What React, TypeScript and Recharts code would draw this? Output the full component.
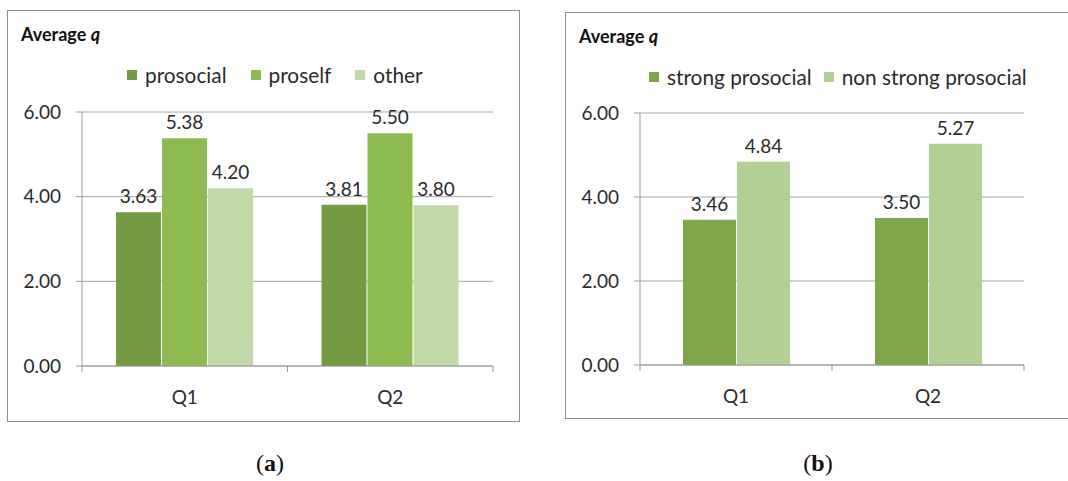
import { Bar, BarChart, CartesianGrid, LabelList, XAxis, YAxis } from 'recharts';

const categories = ['Q1', 'Q2'];
const prosocial = [3.63, 3.81];
const proself = [5.38, 5.5];
const other = [4.2, 3.8];
const strongProsocial = [3.46, 3.5];
const nonStrongProsocial = [4.84, 5.27];
const yTicks = [0, 2, 4, 6];

const FONT = 'Lato, "Open Sans", sans-serif';
const TEXT = '#2b2b2b';

interface Series {
  key: string;
  name: string;
  values: number[];
  color: string;
}

const seriesA: Series[] = [
  { key: 'prosocial', name: 'prosocial', values: prosocial, color: '#739C42' },
  { key: 'proself', name: 'proself', values: proself, color: '#8DBB50' },
  { key: 'other', name: 'other', values: other, color: '#C1D8A8' },
];

const seriesB: Series[] = [
  { key: 'strong', name: 'strong prosocial', values: strongProsocial, color: '#7EA749' },
  { key: 'nonStrong', name: 'non strong prosocial', values: nonStrongProsocial, color: '#B2CF95' },
];

function CategoryTick(props: any) {
  const { x, y, payload, index, visibleTicksCount } = props;
  const half = payload?.offset ?? 100;
  const axisY = y - 8;
  return (
    <g>
      <line x1={x - half} x2={x - half} y1={axisY} y2={axisY + 6} stroke="#999" />
      {index === visibleTicksCount - 1 && (
        <line x1={x + half} x2={x + half} y1={axisY} y2={axisY + 6} stroke="#999" />
      )}
      <text x={x} y={y + 30} textAnchor="middle" fontSize={19} fontFamily={FONT} fill={TEXT}>
        {payload.value}
      </text>
    </g>
  );
}

interface PanelProps {
  series: Series[];
  left: number;
  top: number;
  width: number;
  height: number;
  margin: { top: number; right: number; bottom: number; left: number };
  barSize: number;
  legendLeft: number;
  legendGap: number;
  caption: string;
  captionX: number;
}

function Panel({ series, left, top, width, height, margin, barSize, legendLeft, legendGap, caption, captionX }: PanelProps) {
  const rows = categories.map((category, i) => {
    const row: Record<string, string | number> = { category };
    series.forEach((s) => (row[s.key] = s.values[i]));
    return row;
  });

  return (
    <>
      <div
        style={{
          position: 'absolute',
          left,
          top,
          width: width - 2,
          height: height - 2,
          border: '1px solid #8c8c8c',
          background: '#fff',
        }}
      >
        <div style={{ position: 'absolute', left: 13, top: 12, fontFamily: FONT, fontSize: 18, fontWeight: 700, color: '#111' }}>
          Average <i>q</i>
        </div>
        <div style={{ position: 'absolute', left: legendLeft, top: 51, display: 'flex', alignItems: 'center', fontFamily: FONT, fontSize: 20.8, color: TEXT }}>
          {series.map((s) => (
            <div key={s.key} style={{ display: 'flex', alignItems: 'center', marginRight: legendGap }}>
              <span style={{ width: 10, height: 10, background: s.color, marginRight: 8 }} />
              <span>{s.name}</span>
            </div>
          ))}
        </div>
        <BarChart width={width - 2} height={height - 2} data={rows} margin={margin} barSize={barSize} barGap={1}>
          <CartesianGrid vertical={false} stroke="#a6a6a6" />
          <XAxis dataKey="category" height={30} axisLine={{ stroke: '#999' }} tickLine={false} tick={<CategoryTick />} interval={0} />
          <YAxis
            width={60}
            domain={[0, 6]}
            ticks={yTicks}
            axisLine={{ stroke: '#999' }}
            tickLine={{ stroke: '#999' }}
            tickSize={6}
            tickMargin={15}
            tickFormatter={(v: number) => v.toFixed(2)}
            tick={{ fontSize: 19, fontFamily: FONT, fill: TEXT }}
          />
          {series.map((s) => (
            <Bar key={s.key} dataKey={s.key} name={s.name} fill={s.color} isAnimationActive={false}>
              <LabelList
                dataKey={s.key}
                position="top"
                offset={9}
                formatter={(v: any) => Number(v).toFixed(2)}
                style={{ fontSize: 19, fontFamily: FONT, fill: TEXT }}
              />
            </Bar>
          ))}
        </BarChart>
      </div>
      <div
        style={{
          position: 'absolute',
          left: captionX - 40,
          width: 80,
          top: 450,
          textAlign: 'center',
          fontFamily: '"Liberation Serif", "DejaVu Serif", serif',
          fontSize: 24,
          color: '#111',
        }}
      >
        (<b>{caption}</b>)
      </div>
    </>
  );
}

export default function App() {
  return (
    <div style={{ position: 'absolute', left: 0, top: 0, width: 1068, height: 481, overflow: 'hidden', background: '#fff' }}>
      <Panel
        series={seriesA}
        left={7}
        top={10}
        width={513}
        height={412}
        margin={{ top: 101, right: 26, bottom: 25, left: 14 }}
        barSize={45}
        legendLeft={119}
        legendGap={24}
        caption="a"
        captionX={270}
      />
      <Panel
        series={seriesB}
        left={565}
        top={12}
        width={510}
        height={407}
        margin={{ top: 100, right: 50, bottom: 23, left: 14 }}
        barSize={53}
        legendLeft={83}
        legendGap={12}
        caption="b"
        captionX={818}
      />
    </div>
  );
}
